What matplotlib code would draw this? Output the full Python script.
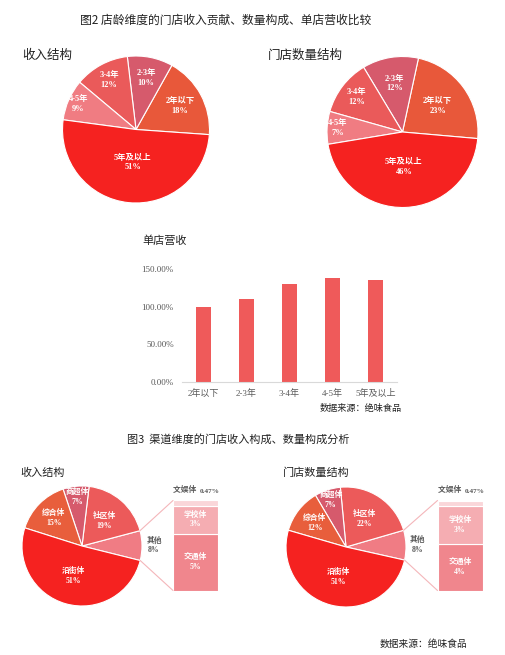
import matplotlib
matplotlib.use("Agg")
import matplotlib.pyplot as plt
import numpy as np
from matplotlib.patches import ConnectionPatch

plt.rcParams['font.family'] = ['Noto Sans CJK SC', 'DejaVu Sans']

# ---- data ----
age_names = ["2年以下", "2-3年", "3-4年", "4-5年", "5年及以上"]
age_revenue = [18, 10, 12, 9, 51]
age_count = [23, 12, 12, 7, 46]

bar_cats = ["2年以下", "2-3年", "3-4年", "4-5年", "5年及以上"]
bar_vals = [100, 110, 130, 138.5, 136]
bar_ticks = [0, 50, 100, 150]

ch_names = ["其他", "社区体", "商超体", "综合体", "沿街体"]
ch_revenue = [8, 19, 7, 15, 51]
ch_count = [8, 22, 7, 12, 51]

other_names = ["交通体", "学校体", "文娱体"]
other_revenue = [5.3, 2.6, 0.47]
other_revenue_lbl = ["5%", "3%", "0.47%"]
other_count = [4.1, 3.4, 0.47]
other_count_lbl = ["4%", "3%", "0.47%"]

# ---- style ----
W, H = 505, 655
age_colors = ['#E8583A', '#D65A6C', '#EA5A5A', '#F07C82', '#F52220']
ch_colors = ['#F07C84', '#EC5A5A', '#D65A6C', '#E85E3C', '#F52220']
stack_colors = ['#F0868D', '#F5ADB2', '#FAD6D9']
bar_color = '#EF5A5A'
gray = '#595959'
lbl_font = ['Liberation Serif', 'Noto Sans CJK SC']

fig = plt.figure(figsize=(W / 100, H / 100), dpi=100)


def px_axes(x0, y0, w, h):
    return fig.add_axes([x0 / W, 1 - (y0 + h) / H, w / W, h / H])


def pie_at(cx, cy, r, vals, colors, start, names, dists, size=6):
    ax = px_axes(cx - r, cy - r, 2 * r, 2 * r)
    wedges, _ = ax.pie(vals, colors=colors, startangle=start, counterclock=True,
                       wedgeprops=dict(edgecolor='white', linewidth=0.8))
    ax.set_xlim(-1, 1)
    ax.set_ylim(-1, 1)
    for w, n, v, d in zip(wedges, names, vals, dists):
        ang = np.deg2rad((w.theta1 + w.theta2) / 2)
        col = 'white' if d < 1 else gray
        ax.text(d * np.cos(ang), d * np.sin(ang), f"{n}\n{v}%", ha='center', va='center',
                color=col, fontsize=size, fontweight='bold', family=lbl_font, linespacing=1.3)
    return ax, wedges


# ---- figure 2 ----
fig.text(226 / W, 1 - 20 / H, "图2 店龄维度的门店收入贡献、数量构成、单店营收比较",
         ha='center', va='center', fontsize=8.5, color='#222222')
fig.text(22 / W, 1 - 55 / H, "收入结构", ha='left', va='center', fontsize=9, color='#222222')
fig.text(268 / W, 1 - 55 / H, "门店数量结构", ha='left', va='center', fontsize=9, color='#222222')

pie_at(136, 129.5, 73.5, age_revenue, age_colors, -4, age_names,
       [0.68, 0.71, 0.77, 0.86, 0.45], size=6)
pie_at(402.5, 132, 75.5, age_count, age_colors, -5, age_names,
       [0.58, 0.65, 0.76, 0.86, 0.46], size=6)

# bar chart
fig.text(142 / W, 1 - 241 / H, "单店营收", ha='left', va='center', fontsize=8, color='#222222')
bax = px_axes(182, 269, 215, 113)
x = np.arange(len(bar_cats))
bax.bar(x, bar_vals, width=0.33, color=bar_color)
bax.set_xlim(-0.5, 4.5)
bax.set_ylim(0, 150)
bax.set_yticks(bar_ticks)
bax.set_yticklabels([f"{t:.2f}%" for t in bar_ticks])
bax.set_xticks(x)
bax.set_xticklabels(bar_cats)
for s in ['top', 'right', 'left']:
    bax.spines[s].set_visible(False)
bax.spines['bottom'].set_color('#D9D9D9')
bax.tick_params(length=0, colors=gray, labelsize=6.5)
for t in bax.get_yticklabels() + bax.get_xticklabels():
    t.set_family(lbl_font)
bax.tick_params(axis='y', pad=6)
bax.tick_params(axis='x', pad=5)
fig.text(402 / W, 1 - 409 / H, "数据来源：绝味食品", ha='right', va='center', fontsize=6.6, color='#222222')

# ---- figure 3 ----
fig.text(238 / W, 1 - 439 / H, "图3  渠道维度的门店收入构成、数量构成分析",
         ha='center', va='center', fontsize=8, color='#222222')
fig.text(20 / W, 1 - 473 / H, "收入结构", ha='left', va='center', fontsize=8, color='#222222')
fig.text(283 / W, 1 - 473 / H, "门店数量结构", ha='left', va='center', fontsize=8, color='#222222')


def bar_of_pie(cx, cy, r, vals, bx, sub_vals, sub_lbls, start):
    pax, wedges = pie_at(cx, cy, r, vals, ch_colors, start, ch_names,
                         [1.2, 0.56, 0.82, 0.66, 0.52], size=5.6)
    sax = px_axes(bx, 500.5, 45, 90)
    bottom = 0
    for v, c, n, lb in zip(sub_vals, stack_colors, other_names, sub_lbls):
        sax.bar(0.5, v, width=1, bottom=bottom, color=c, edgecolor='white', linewidth=0.8)
        if v > 1:
            sax.text(0.5, bottom + v / 2, f"{n}\n{lb}", ha='center', va='center', color='white',
                     fontsize=5.6, fontweight='bold', family=lbl_font, linespacing=1.3)
        bottom += v
    total = bottom
    sax.set_xlim(0, 1)
    sax.set_ylim(0, total)
    sax.axis('off')
    sax.annotate(f"{other_names[-1]} ", (0, total), xytext=(0, 5), textcoords='offset points',
                 ha='left', va='bottom', fontsize=5.6, fontweight='bold', color=gray)
    sax.annotate(sub_lbls[-1], (0.6, total), xytext=(0, 5), textcoords='offset points',
                 ha='left', va='bottom', fontsize=5.2, fontweight='bold', color=gray,
                 family=lbl_font)
    w = wedges[0]
    for th, yb in [(w.theta2, total), (w.theta1, 0)]:
        a = np.deg2rad(th)
        con = ConnectionPatch(xyA=(np.cos(a), np.sin(a)), coordsA=pax.transData,
                              xyB=(0, yb), coordsB=sax.transData,
                              color='#F4B6BA', linewidth=0.8)
        fig.add_artist(con)


bar_of_pie(82, 546, 60, ch_revenue, 173, other_revenue, other_revenue_lbl, -14)
bar_of_pie(346, 547, 60, ch_count, 437.5, other_count, other_count_lbl, -12.6)

fig.text(467 / W, 1 - 644 / H, "数据来源：绝味食品", ha='right', va='center', fontsize=7, color='#222222')

fig.savefig("out.png", dpi=100, facecolor='white')
